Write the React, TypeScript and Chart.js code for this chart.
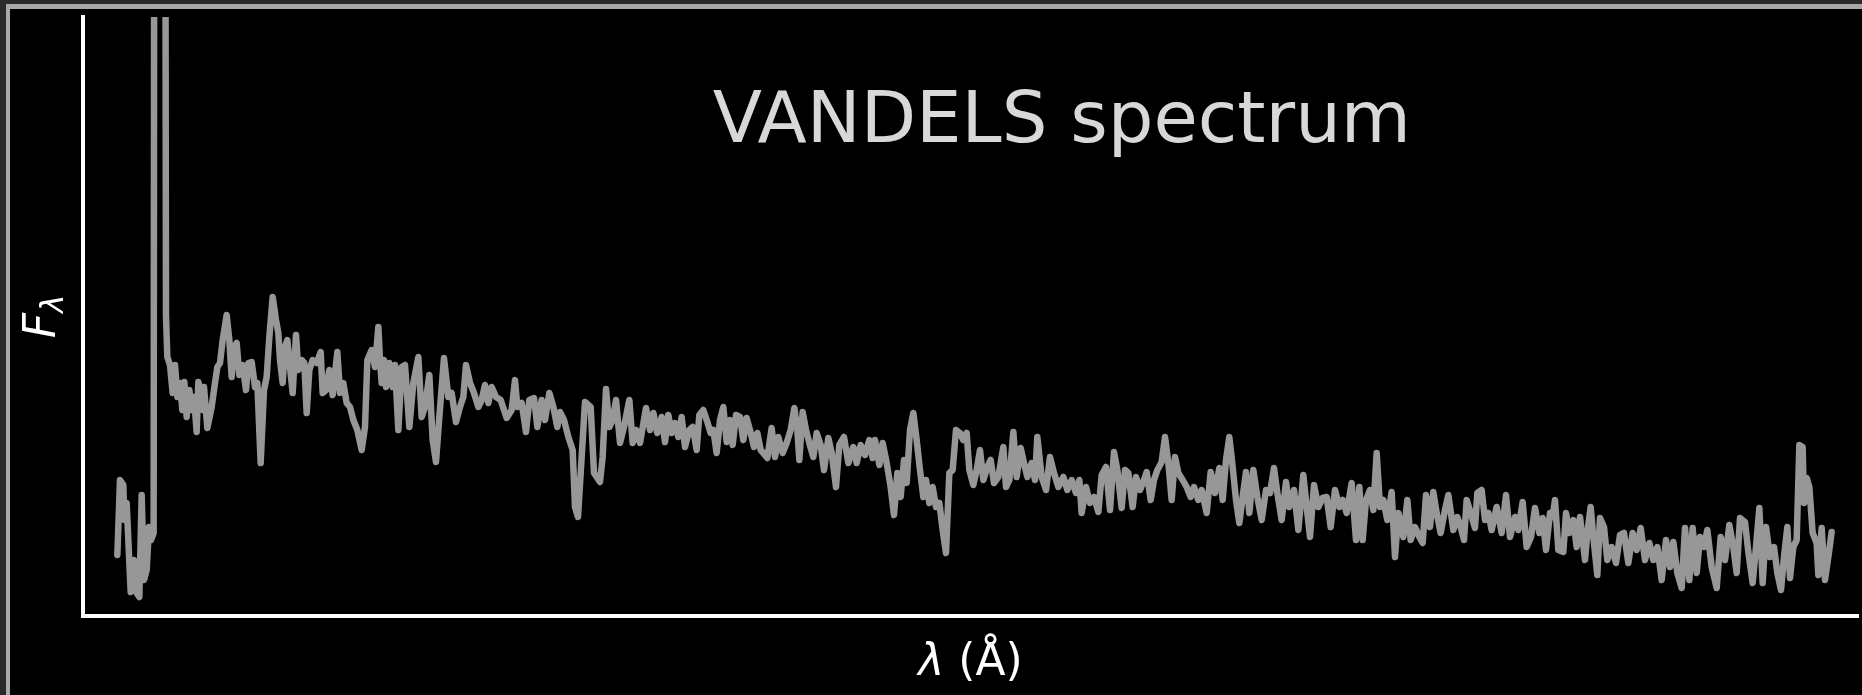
import React, { useEffect, useRef } from "react";
import { Chart, registerables } from "chart.js";

Chart.register(...registerables);

// Observed-frame wavelength grid (Å) and flux density (arbitrary units)
const wavelength = [
  4852, 4860, 4870, 4873, 4880, 4892, 4902, 4910, 4918, 4925, 4932, 4940, 4947, 4953, 4961,
  4967, 4991, 4994, 4998,
  5002, 5010, 5018, 5025, 5032, 5040, 5047, 5053, 5060, 5068, 5075, 5082, 5090, 5095, 5102,
  5108, 5112, 5122, 5135, 5145, 5152, 5160, 5168, 5180, 5188, 5195, 5202, 5210, 5218, 5228,
  5238, 5245, 5255, 5265, 5272, 5282, 5292, 5300, 5308, 5318, 5328, 5335, 5340, 5348, 5355,
  5362, 5370, 5378, 5388, 5395, 5405, 5413, 5420, 5428, 5438, 5450, 5462, 5468, 5478, 5488,
  5498, 5512, 5520, 5530, 5540, 5550, 5560, 5572, 5585, 5595, 5602, 5615, 5625, 5635, 5640,
  5645, 5652, 5658, 5668, 5678, 5685, 5695, 5705, 5715, 5728, 5740, 5755, 5765, 5775, 5788,
  5798, 5808, 5818, 5832, 5845, 5855, 5868, 5880, 5890, 5898, 5910, 5922, 5935, 5945, 5955,
  5965, 5975, 5988, 6002, 6020, 6035, 6045, 6052, 6065, 6078, 6088, 6102, 6112, 6125, 6135,
  6148, 6160, 6172, 6180, 6192, 6205, 6218, 6225, 6234,
  6245, 6255, 6265, 6272, 6282, 6300, 6308, 6318, 6328, 6338, 6348, 6360, 6372, 6388, 6398,
  6408, 6420, 6438, 6450, 6460, 6472, 6485, 6495, 6505, 6515, 6525, 6535, 6545, 6555, 6568,
  6578, 6590, 6598, 6610, 6622, 6632, 6640, 6650, 6660, 6670, 6680, 6690, 6698, 6708, 6720,
  6730, 6740, 6750, 6762, 6772, 6782, 6795, 6802, 6815, 6825, 6835, 6848, 6860, 6872, 6883,
  6892, 6898, 6908, 6918, 6928, 6940, 6950, 6962, 6972, 6985, 6995, 7008, 7018, 7032, 7045,
  7060, 7070, 7082, 7095, 7108, 7118, 7125, 7138, 7148, 7160, 7172, 7182, 7192, 7202, 7212,
  7220, 7230, 7240, 7250, 7260, 7270, 7278, 7288, 7298, 7308, 7318, 7328, 7338, 7348, 7358,
  7368, 7380, 7390, 7400, 7408, 7420, 7430, 7440, 7450, 7462, 7472, 7482, 7495,
  7510, 7518, 7528, 7540, 7550, 7562, 7572, 7582, 7595, 7605, 7612, 7625, 7638, 7650, 7662,
  7675, 7690, 7702, 7715, 7728, 7738, 7745, 7758, 7770, 7782, 7795, 7805, 7818, 7830, 7842,
  7852, 7865, 7875, 7885, 7898, 7908, 7920, 7932, 7940, 7952, 7962, 7972, 7985, 7995, 8005,
  8015, 8025, 8035, 8048, 8060, 8072, 8082, 8095, 8105, 8120, 8132, 8145, 8158, 8168, 8178,
  8188, 8198, 8208, 8218, 8228, 8238, 8248, 8260, 8272, 8285, 8298, 8310, 8322, 8332, 8345,
  8358, 8368, 8382, 8395, 8410, 8422, 8430, 8442, 8455, 8468, 8480, 8492, 8505, 8518, 8528,
  8540, 8555, 8568, 8578, 8588, 8598, 8610, 8620, 8630, 8640, 8650, 8662, 8675, 8685, 8695,
  8710, 8722, 8732, 8745, 8758, 8768, 8778, 8790, 8800, 8810, 8822, 8835, 8845,
  8860, 8872, 8882, 8892, 8900, 8912, 8925, 8932, 8945, 8955, 8965, 8975, 8990, 9005, 9018,
  9030, 9045, 9055, 9068, 9080, 9093, 9105, 9118, 9128, 9138, 9150, 9158, 9165, 9175, 9190,
  9198, 9208, 9220, 9230, 9240, 9255, 9262, 9272, 9280, 9292, 9300, 9312, 9322, 9335, 9348,
  9360, 9372, 9385, 9398, 9410, 9422, 9435, 9448, 9460, 9472, 9485, 9498, 9510, 9520, 9532,
  9545, 9555, 9568, 9578, 9590, 9600, 9612, 9622, 9635, 9650, 9662, 9675, 9688, 9700, 9710,
  9720, 9735, 9745, 9758, 9768, 9778, 9788, 9798, 9810, 9822, 9832, 9843, 9852, 9862, 9870,
  9880, 9890, 9898, 9908, 9912, 9920, 9928, 9938, 9950, 9955, 9965, 9975, 9985, 9995,
];

const flux = [
  61, 136, 131, 96, 113, 24, 56, 23, 19, 121, 36, 46, 89, 76, 83,
  2500, 2500, 1200, 300,
  259, 251, 223, 251, 219, 233, 206, 234, 199, 226, 206, 219, 184, 234, 226,
  206, 229, 188, 209, 233, 249, 253, 276, 301, 276, 239, 269, 273, 241, 251,
  226, 253, 254, 229, 233, 153, 226, 239, 279, 319, 296, 283, 256, 233, 269,
  276, 249, 223, 281, 246, 256, 253, 203, 246, 256, 253, 264, 223, 226, 246,
  221, 264, 223, 233, 213, 209, 196, 186, 166, 189, 256, 266, 249, 289, 256,
  233, 256, 229, 253, 229, 251, 186, 249, 251, 189, 233, 259, 199, 209, 241,
  176, 154, 199, 258, 219, 223, 194, 209, 219, 251, 233, 223, 209, 216, 231,
  213, 229, 219, 216, 198, 206, 236, 209, 213, 184, 216, 218, 189, 216, 196,
  223, 209, 189, 204, 196, 179, 166, 109, 99,
  159, 214, 211, 209, 143, 134, 159, 227, 189, 196, 216, 173, 189, 216, 173,
  186, 173, 208, 186, 203, 183, 199, 174, 201, 183, 193, 179, 199, 169, 186,
  189, 166, 201, 206, 194, 183, 186, 163, 196, 209, 174, 196, 171, 201, 199,
  176, 198, 186, 169, 183, 166, 161, 158, 188, 159, 179, 163, 173, 186, 208,
  186, 156, 204, 186, 173, 159, 183, 171, 146, 178, 163, 129, 171, 179, 153,
  169, 153, 171, 161, 176, 158, 176, 151, 173, 153, 129, 101, 143, 119, 156,
  133, 186, 203, 176, 146, 119, 136, 113, 129, 109, 113, 86, 63, 143, 146,
  186, 183, 176, 183, 146, 131, 146, 166, 136, 149, 156, 133, 139,
  169, 129, 136, 184, 139, 168, 153, 139, 153, 136, 179, 139, 126, 159, 143,
  129, 139, 126, 136, 123, 136, 103, 129, 113, 119, 104, 141, 149, 106, 164,
  146, 108, 146, 143, 109, 139, 126, 136, 144, 116, 136, 146, 154, 179, 153,
  116, 159, 143, 136, 129, 119, 129, 116, 126, 103, 144, 123, 148, 116, 156,
  179, 149, 116, 93, 119, 144, 103, 146, 119, 96, 126, 123, 148, 123, 96,
  134, 109, 126, 86, 141, 103, 79, 131, 109, 118, 119, 89, 126, 109, 116,
  103, 133, 76, 129, 76, 116, 126, 106, 163, 109, 116, 96, 124, 59, 103,
  79, 116, 76, 89, 79, 73, 121, 89, 124, 103, 83, 106, 121,
  86, 99, 89, 76, 116, 103, 88, 123, 126, 96, 103, 86, 109, 83, 121,
  79, 99, 86, 114, 69, 79, 108, 83, 98, 66, 103, 99, 116, 66, 64,
  103, 83, 96, 69, 99, 56, 83, 109, 79, 41, 98, 89, 56, 69, 53,
  81, 83, 53, 83, 66, 88, 56, 73, 56, 69, 36, 76, 49, 74, 43,
  28, 88, 36, 88, 43, 79, 69, 86, 49, 28, 79, 56, 91, 69, 43,
  98, 94, 64, 33, 69, 108, 33, 89, 59, 69, 43, 26, 59, 89, 38,
  69, 76, 171, 169, 113, 138, 129, 83, 73, 41, 88, 36, 59, 84,
];

const lambdaMin = 4749;
const lambdaMax = 10074;
const fluxMin = 0;
const fluxMax = 599;

const titleText = "VANDELS spectrum";
const xLabelSymbol = "λ";
const xLabelUnit = " (Å)";
const yLabelMain = "F";
const yLabelSub = "λ";

const FONT = '"DejaVu Sans", "Noto Sans", sans-serif';

const labelsPlugin = {
  id: "spectrumLabels",
  afterDraw(chart: any) {
    const { ctx, chartArea } = chart;
    const { left, right, top, bottom } = chartArea;
    const w = right - left;
    ctx.save();

    // Title placed inside the axes
    ctx.fillStyle = "#d8d8d8";
    ctx.font = `72px ${FONT}`;
    ctx.textAlign = "center";
    ctx.textBaseline = "alphabetic";
    ctx.fillText(titleText, left + 0.5515 * w, top + 125);

    // x-axis label: italic lambda followed by the unit
    ctx.fillStyle = "#ffffff";
    ctx.textAlign = "left";
    ctx.font = `italic 44px ${FONT}`;
    const symW = ctx.measureText(xLabelSymbol).width;
    ctx.font = `44px ${FONT}`;
    const unitW = ctx.measureText(xLabelUnit).width;
    const xStart = (left + right) / 2 - (symW + unitW) / 2;
    const xBase = bottom + 59;
    ctx.font = `italic 44px ${FONT}`;
    ctx.fillText(xLabelSymbol, xStart, xBase);
    ctx.font = `44px ${FONT}`;
    ctx.fillText(xLabelUnit, xStart + symW, xBase);

    // y-axis label: F with subscript lambda, rotated
    ctx.translate(left - 28, (top + bottom) / 2);
    ctx.rotate(-Math.PI / 2);
    ctx.font = `italic 44px ${FONT}`;
    const fW = ctx.measureText(yLabelMain).width;
    ctx.font = `italic 31px ${FONT}`;
    const sW = ctx.measureText(yLabelSub).width;
    const yStart = -(fW + sW) / 2;
    ctx.font = `italic 44px ${FONT}`;
    ctx.fillText(yLabelMain, yStart, 0);
    ctx.font = `italic 31px ${FONT}`;
    ctx.fillText(yLabelSub, yStart + fW, 8);

    ctx.restore();
  },
};

export default function App() {
  const canvasRef = useRef<HTMLCanvasElement | null>(null);

  useEffect(() => {
    const canvas = canvasRef.current;
    if (!canvas) return;
    const points = wavelength.map((lam, i) => ({ x: lam, y: flux[i] }));
    const chart = new Chart(canvas, {
      type: "line",
      data: {
        datasets: [
          {
            data: points,
            borderColor: "#979797",
            borderWidth: 6.5,
            borderCapStyle: "round",
            borderJoinStyle: "round",
            pointRadius: 0,
            tension: 0,
            fill: false,
          },
        ],
      },
      options: {
        animation: false,
        responsive: false,
        devicePixelRatio: 1,
        events: [],
        layout: { padding: { left: 83, right: 4, top: 17, bottom: 79 } },
        plugins: {
          legend: { display: false },
          tooltip: { enabled: false },
          title: { display: false },
        },
        scales: {
          x: {
            type: "linear",
            min: lambdaMin,
            max: lambdaMax,
            ticks: { display: false },
            grid: { display: false, drawTicks: false },
            border: { display: true, color: "#ffffff", width: 4 },
          },
          y: {
            type: "linear",
            min: fluxMin,
            max: fluxMax,
            ticks: { display: false },
            grid: { display: false, drawTicks: false },
            border: { display: true, color: "#ffffff", width: 4 },
          },
        },
      },
      plugins: [labelsPlugin],
    });
    return () => chart.destroy();
  }, []);

  return (
    <div
      style={{
        position: "fixed",
        left: 0,
        top: 0,
        width: 1862,
        height: 695,
        background: "#2a2a2a",
        overflow: "hidden",
      }}
    >
      <div
        style={{
          position: "absolute",
          left: 6,
          top: 4,
          right: 0,
          bottom: 0,
          background: "#000000",
          borderLeft: "4px solid #a9a9a9",
          borderTop: "5px solid #a9a9a9",
        }}
      />
      <canvas
        ref={canvasRef}
        width={1862}
        height={695}
        style={{ position: "absolute", left: 0, top: 0, width: 1862, height: 695 }}
      />
    </div>
  );
}
